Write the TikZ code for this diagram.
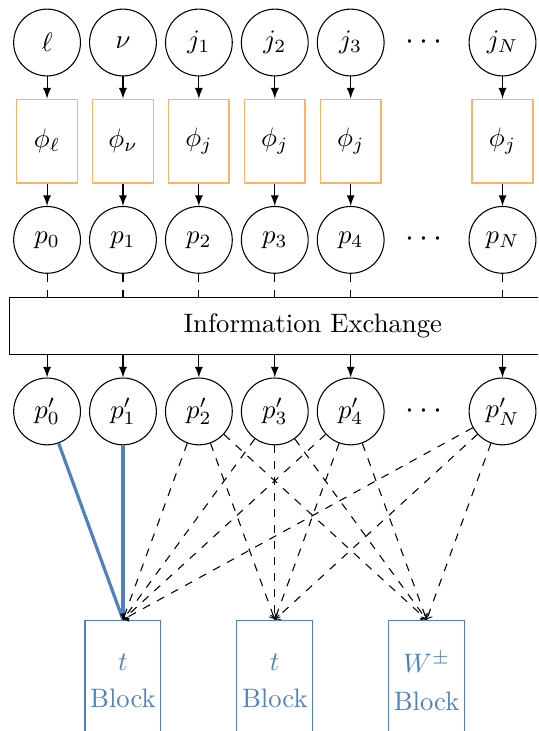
\documentclass[tikz,border=0pt]{standalone}
\usepackage{amsmath, amssymb}
\usepackage{xcolor}
\usepackage{tikz}

\definecolor{blkblue}{RGB}{79,129,189}

\begin{document}
\begin{tikzpicture}[
    prt/.style={draw, circle, minimum size=0.88cm, inner sep=0pt},
    emb/.style={draw=orange!60, line width=0.6pt, minimum width=0.8cm, minimum height=1.1cm, inner sep=0pt},
    blk/.style={draw=blkblue, text=blkblue, align=center, minimum width=1cm, minimum height=1.6cm, inner sep=0pt}
]
    % 画布范围
    \useasboundingbox (0,0) rectangle (7.09,-9.63);
    \clip (0,0) rectangle (7.09,-9.63);

    % 输入粒子
    \node[prt] (l)  at (0.62,-0.56) {$\ell$};
    \node[prt] (nu) at (1.62,-0.56) {$\nu$};
    \node[prt] (j1) at (2.62,-0.56) {$j_1$};
    \node[prt] (j2) at (3.62,-0.56) {$j_2$};
    \node[prt] (j3) at (4.62,-0.56) {$j_3$};
    \node (dotsa)   at (5.62,-0.56) {\large$\cdots$};
    \node[prt] (jN) at (6.62,-0.56) {$j_N$};

    % 嵌入
    \node[emb] (phil)  at (0.62,-1.86) {$\phi_\ell$};
    \node[emb] (phinu) at (1.62,-1.86) {$\phi_\nu$};
    \node[emb] (phij1) at (2.62,-1.86) {$\phi_j$};
    \node[emb] (phij2) at (3.62,-1.86) {$\phi_j$};
    \node[emb] (phij3) at (4.62,-1.86) {$\phi_j$};
    \node[emb] (phijN) at (6.62,-1.86) {$\phi_j$};

    % 表示
    \node[prt] (p0) at (0.62,-3.16) {$p_0$};
    \node[prt] (p1) at (1.62,-3.16) {$p_1$};
    \node[prt] (p2) at (2.62,-3.16) {$p_2$};
    \node[prt] (p3) at (3.62,-3.16) {$p_3$};
    \node[prt] (p4) at (4.62,-3.16) {$p_4$};
    \node (dotsb)   at (5.62,-3.16) {\large$\cdots$};
    \node[prt] (pN) at (6.62,-3.16) {$p_N$};

    \node[draw, minimum width=8cm, minimum height=0.75cm, inner sep=0pt] (info) at (4.12,-4.29) {Information Exchange};

    \node[prt] (q0) at (0.62,-5.42) {$p'_0$};
    \node[prt] (q1) at (1.62,-5.42) {$p'_1$};
    \node[prt] (q2) at (2.62,-5.42) {$p'_2$};
    \node[prt] (q3) at (3.62,-5.42) {$p'_3$};
    \node[prt] (q4) at (4.62,-5.42) {$p'_4$};
    \node (dotsc)   at (5.62,-5.42) {\large$\cdots$};
    \node[prt] (qN) at (6.62,-5.42) {$p'_N$};

    % 输出块
    \node[blk] (tba) at (1.62,-8.97) {$t$\\[2pt]Block};
    \node[blk] (tbb) at (3.62,-8.97) {$t$\\[2pt]Block};
    \node[blk] (wb)  at (5.62,-8.97) {$W^{\pm}$\\[2pt]Block};

    % 连线
    \draw[-latex] (l) -- (phil);
    \draw[-latex] (nu) -- (phinu);
    \draw[-latex] (j1) -- (phij1);
    \draw[-latex] (j2) -- (phij2);
    \draw[-latex] (j3) -- (phij3);
    \draw[-latex] (jN) -- (phijN);

    \draw[-latex] (phil) -- (p0);
    \draw[-latex] (phinu) -- (p1);
    \draw[-latex] (phij1) -- (p2);
    \draw[-latex] (phij2) -- (p3);
    \draw[-latex] (phij3) -- (p4);
    \draw[-latex] (phijN) -- (pN);

    \draw[dashed] (p0) -- (p0 |- info.north);
    \draw[dashed] (p1) -- (p1 |- info.north);
    \draw[dashed] (p2) -- (p2 |- info.north);
    \draw[dashed] (p3) -- (p3 |- info.north);
    \draw[dashed] (p4) -- (p4 |- info.north);
    \draw[dashed] (pN) -- (pN |- info.north);

    \draw[-latex] (info.south -| q0) -- (q0);
    \draw[-latex] (info.south -| q1) -- (q1);
    \draw[-latex] (info.south -| q2) -- (q2);
    \draw[-latex] (info.south -| q3) -- (q3);
    \draw[-latex] (info.south -| q4) -- (q4);
    \draw[-latex] (info.south -| qN) -- (qN);

    % 分配到各块
    \draw[blkblue, very thick] (q0) -- (tba.north);
    \draw[blkblue, very thick] (q1) -- (tba.north);
    \draw[dashed, ->] (q2) edge (tba.north) edge (tbb.north) edge (wb.north);
    \draw[dashed, ->] (q3) edge (tba.north) edge (tbb.north) edge (wb.north);
    \draw[dashed, ->] (q4) edge (tba.north) edge (tbb.north) edge (wb.north);
    \draw[dashed, ->] (qN) edge (tba.north) edge (tbb.north) edge (wb.north);
\end{tikzpicture}
\end{document}
